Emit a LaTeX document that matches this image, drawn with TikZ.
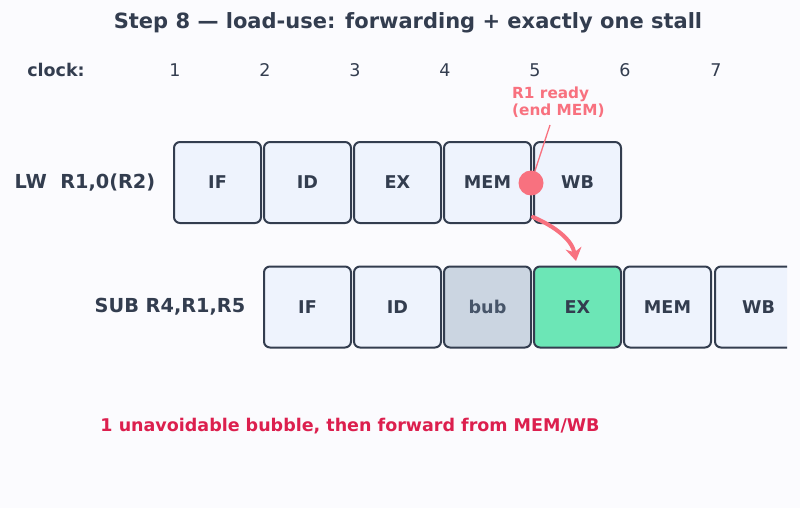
\documentclass[tikz,border=0pt]{standalone}
\usepackage{fontspec}
\setmainfont{DejaVu Sans}
\usetikzlibrary{arrows.meta}
\definecolor{bg}{HTML}{FBFBFE}
\definecolor{ink}{HTML}{333D4F}
\definecolor{boxfill}{HTML}{EEF3FD}
\definecolor{bubfill}{HTML}{CBD5E1}
\definecolor{bubtext}{HTML}{475569}
\definecolor{exfill}{HTML}{6CE6B6}
\definecolor{pinkc}{HTML}{F8717F}
\definecolor{crimson}{HTML}{DC1F4E}
\begin{document}
\begin{tikzpicture}[x=1pt,y=-1pt,
  stage/.style={draw=ink, line width=2pt, rounded corners=6pt, fill=boxfill,
    minimum width=87pt, minimum height=81pt, inner sep=0pt,
    font=\fontsize{17.6}{20}\selectfont\bfseries, text=ink},
  bubst/.style={stage, fill=bubfill, text=bubtext},
  exst/.style={stage, fill=exfill},
  clk/.style={font=\fontsize{17.5}{20}\selectfont, text=ink},
  rowlab/.style={font=\fontsize{19.3}{22}\selectfont\bfseries, text=ink}]
\fill[bg] (0,0) rectangle (800,508);
\useasboundingbox (0,0) rectangle (800,508);

\node[font=\fontsize{21}{24}\selectfont\bfseries, text=ink] (title) at (408,23)
  {Step 8 — load-use: forwarding + exactly one stall};

\node[font=\fontsize{17.5}{20}\selectfont\bfseries, text=ink] (clock) at (56,70) {clock:};
\node[clk] (c1) at (175,70) {1};
\node[clk] (c2) at (265,70) {2};
\node[clk] (c3) at (355,70) {3};
\node[clk] (c4) at (445,70) {4};
\node[clk] (c5) at (535,70) {5};
\node[clk] (c6) at (625,70) {6};
\node[clk] (c7) at (716,70) {7};

% row 1
\node[rowlab] (lw) at (85,183) {LW\ \ R1,0(R2)};
\node[stage] (a1) at (217.5,182.5) {IF};
\node[stage] (a2) at (307.5,182.5) {ID};
\node[stage] (a3) at (397.5,182.5) {EX};
\node[stage] (a4) at (487.5,182.5) {MEM};
\node[stage] (a5) at (577.5,182.5) {WB};

% row 2
\node[rowlab] (sub) at (170,307) {SUB R4,R1,R5};
\begin{scope}
\clip (0,0) rectangle (787,508);
\node[stage] (b1) at (307.5,307) {IF};
\node[stage] (b2) at (397.5,307) {ID};
\node[bubst] (b3) at (487.5,307) {bub};
\node[exst] (b4) at (577.5,307) {EX};
\node[stage] (b5) at (667.5,307) {MEM};
\node[stage] (b6) at (758.5,307) {WB};
\end{scope}

% forwarding marker
\node[circle, fill=pinkc, minimum size=25pt, inner sep=0pt] (dot) at (531,183) {};
\node[anchor=north west, align=left, text=pinkc, inner sep=0pt,
  font=\fontsize{15.3}{17}\selectfont\bfseries] (note) at (512,87) {R1 ready\\(end MEM)};
\coordinate (noteend) at (550,125);
\draw[pinkc, line width=1.3pt] (noteend) -- (dot);

\coordinate (arrs) at (533,217);
\coordinate (arre) at (576,261);
\draw[pinkc, line width=4pt, line cap=round, -{Stealth[length=13pt,width=16pt]}]
  (arrs) .. controls (556,227) and (572,240) .. (arre);

\node[font=\fontsize{17.5}{20}\selectfont\bfseries, text=crimson] (foot) at (350,426)
  {1 unavoidable bubble, then forward from MEM/WB};
\end{tikzpicture}
\end{document}
